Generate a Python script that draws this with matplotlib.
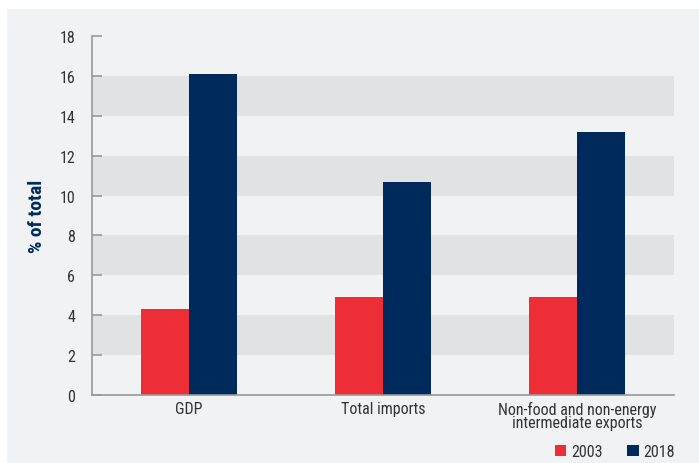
import numpy as np
import matplotlib
matplotlib.use('Agg')
from matplotlib import pyplot as plt
from matplotlib.patches import Rectangle
from matplotlib import font_manager

# data
categories = ['GDP', 'Total imports', 'Non-food and non-energy\nintermediate exports']
share_2003 = [4.3, 4.9, 4.9]
share_2018 = [16.1, 10.7, 13.2]
years = ['2003', '2018']

red = '#ee2e36'
navy = '#002a5c'
panel = '#f1f2f4'
band = '#e1e2e4'
text_col = '#333333'

# pick a narrow font if one is around
names = {f.name for f in font_manager.fontManager.ttflist}
fams = [n for n in ['Liberation Sans Narrow', 'Roboto Condensed', 'DejaVu Sans Condensed'] if n in names]
plt.rcParams['font.family'] = fams + ['Roboto', 'DejaVu Sans']

fig = plt.figure(figsize=(6.99, 4.64), dpi=100)
fig.patch.set_facecolor('white')
# light gray panel behind the chart
fig.patches.append(Rectangle((7 / 699, 0), 1, 1 - 10 / 464, transform=fig.transFigure,
                             facecolor=panel, edgecolor='none', zorder=0))

ax = fig.add_axes([92 / 699, 1 - 396 / 464, 582 / 699, 359 / 464])
ax.set_facecolor('none')
ax.set_zorder(2)

# alternating bands
for lo in range(2, 18, 4):
    ax.axhspan(lo, lo + 2, color=band, zorder=0, lw=0)

x = np.arange(len(categories))
w = 0.245
ax.bar(x - w / 2, share_2003, w, color=red, label=years[0], zorder=2)
ax.bar(x + w / 2, share_2018, w, color=navy, label=years[1], zorder=2)

ax.set_xlim(-0.5, 2.5)
ax.set_ylim(0, 18)
ax.set_yticks(range(0, 19, 2))
ax.set_xticks(x)
ax.set_xticklabels(categories, fontsize=11.5, color=text_col, linespacing=0.9)
ax.tick_params(axis='x', length=0, pad=4)
ax.tick_params(axis='y', direction='in', length=7, width=1.2, color='#999999',
               labelsize=11.5, labelcolor=text_col, pad=12)

for s in ['top', 'right']:
    ax.spines[s].set_visible(False)
for s in ['left', 'bottom']:
    ax.spines[s].set_color('#999999')
    ax.spines[s].set_linewidth(1.2)

ax.set_ylabel('% of total', fontsize=14, fontweight='bold', color=navy, labelpad=10)

leg = fig.legend(loc='lower right', bbox_to_anchor=(675 / 699, 4 / 464), ncol=2, frameon=False,
                 fontsize=11.5, handlelength=0.75, handleheight=0.75, handletextpad=0.3,
                 columnspacing=1.5, labelcolor=text_col, borderaxespad=0, borderpad=0)
leg.set_zorder(3)

fig.savefig('out.png', dpi=100)
